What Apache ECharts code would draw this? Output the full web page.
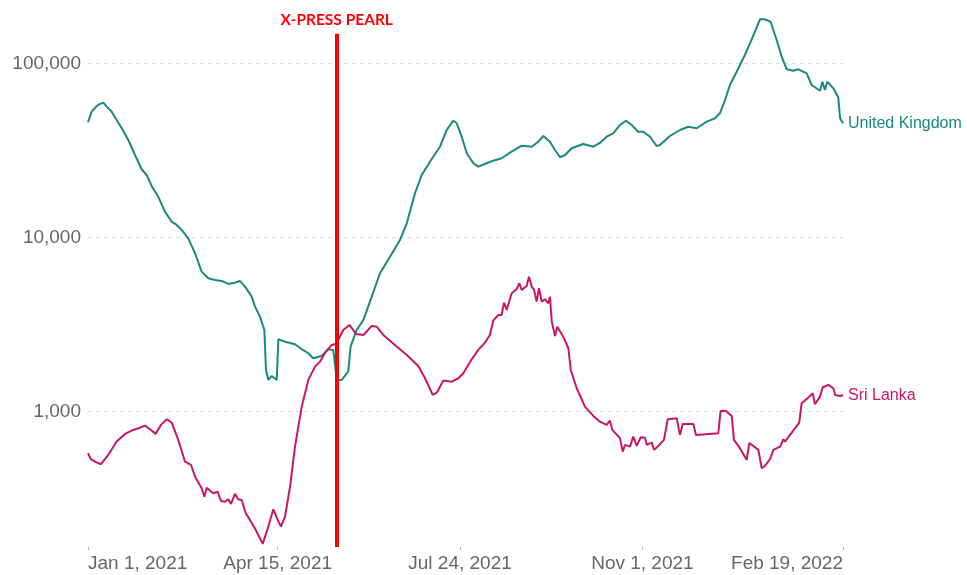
<!DOCTYPE html>
<html>
<head>
<meta charset="utf-8">
<script src="https://cdn.jsdelivr.net/npm/echarts@6.0.0/dist/echarts.min.js"></script>
<style>
html,body{margin:0;padding:0;background:#fff;}
#chart{width:967px;height:575px;}
</style>
</head>
<body>
<div id="chart"></div>
<script>
// x values are days since Jan 1, 2021
const tickDays = [0, 104, 204, 304, 414];
const tickLabels = ['Jan 1, 2021', 'Apr 15, 2021', 'Jul 24, 2021', 'Nov 1, 2021', 'Feb 19, 2022'];
const yTicks = [1000, 10000, 100000];
const eventDay = 136.4;
const eventLabel = 'X-PRESS PEARL';
const seriesNames = ['United Kingdom', 'Sri Lanka'];

const ukDays = [0,2,4.8,6.6,8.4,10.3,13,15.7,18.5,22.1,25.8,29.4,32.2,34.9,38.5,42.2,45.9,48.6,51.4,55,58.7,62.3,66,69.6,73.3,76.9,80.6,83.3,86.1,89.8,91.6,94.3,96.7,97.6,98.9,100.7,103.5,104.4,108,113.5,117.2,120.8,123.5,128.1,131.8,134.5,136.4,139.1,142.7,144,147.3,151,155.6,160.1,165.6,171.1,174.8,179.3,183,187.5,193,196.7,200.3,202.2,204.9,207.7,211.3,214,218.6,222.2,226.8,232.3,237.8,243.3,246.9,249.7,253.3,256.1,258.8,261.6,265.2,271.6,277.1,280.7,284.4,288,291.7,295,298.1,301.7,304.5,308.2,311.8,313.6,319.1,324.6,329.2,333.8,339.3,343.8,346.5,349.3,352,355.7,360.2,363,365.7,368.5,371.2,374.3,377.6,380.4,383.1,386.7,389.5,394.1,396.8,401.4,402.7,404.1,405.4,408.7,411.4,412.4,414];
const ukValues = [45850,52760,56880,58410,59410,56360,52760,47270,42360,36280,29760,24630,22850,19750,17150,14070,12320,11800,11040,9890,8120,6365,5833,5702,5628,5409,5502,5628,5220,4573,4007,3511,2944,1735,1521,1603,1521,2604,2522,2437,2282,2164,2026,2088,2282,2261,1521,1521,1696,2361,2944,3360,4573,6231,7757,9676,12060,17940,22850,27230,33200,41410,46830,45250,37890,30440,26670,25500,26670,27600,28490,31080,33650,33200,35470,38250,35470,31790,28870,29760,32520,34420,33200,34870,37890,39640,44240,46830,44240,40490,40490,37890,33520,33960,38250,41410,43250,42360,46210,48330,51640,61550,75060,89480,111600,130300,151800,178900,178900,173300,136100,109100,92380,90690,92380,87610,75060,69610,78430,70260,78430,71860,63780,48330,45250];

const slDays = [0,1.6,3.8,7.1,11.1,15.7,20.3,24.8,27.6,31.3,34,37.1,40,43.2,45.9,49.5,53.2,56.5,58.7,62.3,63.8,65.1,68.7,71.1,72.9,75.1,76.9,78.4,80.6,82.4,84.3,86.5,88.8,92,95.8,98.9,101.6,104,105.8,108,110.8,113.5,117.2,120.8,124.5,127.2,130,133.6,135.8,137.2,140,143.3,147,151,155.6,158.3,161.9,168.3,174.8,181.1,184.8,189,191.2,194.8,199.4,203.1,205.8,210.4,214,217.7,220.4,222.2,225,226.8,228.1,229.6,232.3,235,236.5,237.8,240.5,241.8,243.3,244.6,246,247.3,248.8,250.6,252.4,253.3,254.3,256.1,257.3,260.6,263.4,264.7,268,272.5,277.1,280.7,284.4,286.2,287.5,291.7,293.2,294.5,297.2,299,300.9,303.1,305.4,306.4,309.1,310.4,313.3,315.8,317.9,322.8,324.6,326.1,331.9,333.4,345.6,346.9,349.8,353,354.2,357.5,361.2,362.6,365.7,367.6,368.1,369.4,371.2,374,375.8,379.5,381.3,382.2,385.9,390,391.3,395.5,397.4,398.6,401.4,402.9,406,408.7,409.7,412.4,414];
const slValues = [577,533,516,499,564,673,745,785,803,831,792,745,839,904,865,688,516,494,423,363,325,366,340,347,307,304,314,295,337,314,311,261,239,209,174,219,275,239,219,249,371,630,1068,1521,1813,1936,2182,2415,2447,2580,2944,3146,2793,2756,3105,3076,2756,2415,2116,1830,1555,1247,1285,1507,1486,1555,1661,1999,2261,2490,2756,3330,3590,3590,4224,3835,4783,5043,5460,4996,5268,5957,5220,4996,4280,5110,4280,4418,4191,4573,3286,2720,3076,2695,2312,1735,1362,1068,945,876,839,888,785,704,589,644,630,719,636,713,709,644,664,603,644,688,904,917,735,850,850,735,752,1009,1009,945,688,617,528,659,625,603,617,473,488,533,603,630,694,673,758,865,1117,1219,1275,1103,1219,1380,1423,1362,1247,1230,1242];

const ukColor = '#1a8a7e';
const slColor = '#c8166b';

function pairs(xs, ys) { return xs.map((x, i) => [x, ys[i]]); }

const chart = echarts.init(document.getElementById('chart'), null, {renderer: 'canvas'});
const labelFont = {fontFamily: 'Liberation Sans, Arial, sans-serif', fontSize: 19, color: '#666'};

chart.setOption({
  animation: false,
  grid: {left: 88, right: 124, top: 15, bottom: 28},
  xAxis: {
    type: 'value', min: 0, max: 414,
    axisLine: {show: false},
    splitLine: {show: false},
    axisTick: {show: true, customValues: tickDays, length: 3, lineStyle: {color: '#bbb', width: 1}},
    axisLabel: Object.assign({
      customValues: tickDays,
      margin: 7,
      alignMinLabel: 'left',
      alignMaxLabel: 'right',
      formatter: function (v) { const i = tickDays.indexOf(v); return i >= 0 ? tickLabels[i] : ''; }
    }, labelFont)
  },
  yAxis: {
    type: 'log', logBase: 10, min: 167, max: 189400,
    axisLine: {show: false},
    axisTick: {show: false, customValues: yTicks},
    splitLine: {show: true, lineStyle: {color: '#dcdcdc', type: [4, 4], width: 1}},
    axisLabel: Object.assign({
      customValues: yTicks,
      margin: 7,
      formatter: function (v) { return Math.round(v).toLocaleString('en-US'); }
    }, labelFont)
  },
  series: [
    {
      name: seriesNames[0], type: 'line', symbol: 'none', z: 3,
      data: pairs(ukDays, ukValues),
      lineStyle: {color: ukColor, width: 2},
      itemStyle: {color: ukColor},
      endLabel: {show: true, formatter: '{a}', color: ukColor, fontSize: 16, fontFamily: 'Liberation Sans, Arial, sans-serif', distance: 5}
    },
    {
      name: seriesNames[1], type: 'line', symbol: 'none', z: 3,
      data: pairs(slDays, slValues),
      lineStyle: {color: slColor, width: 2},
      itemStyle: {color: slColor},
      endLabel: {show: true, formatter: '{a}', color: slColor, fontSize: 16, fontFamily: 'Liberation Sans, Arial, sans-serif', distance: 5},
      markLine: {
        silent: true, symbol: ['none', 'none'], z: 5,
        lineStyle: {color: '#ff0000', width: 4, type: 'solid'},
        label: {show: true, position: 'end', formatter: eventLabel, color: '#ff0000', fontWeight: 'bold', fontSize: 15.5, fontFamily: 'Lato, sans-serif', distance: 6},
        data: [[{coord: [eventDay, 167]}, {coord: [eventDay, 148000]}]]
      }
    }
  ]
});
</script>
</body>
</html>
